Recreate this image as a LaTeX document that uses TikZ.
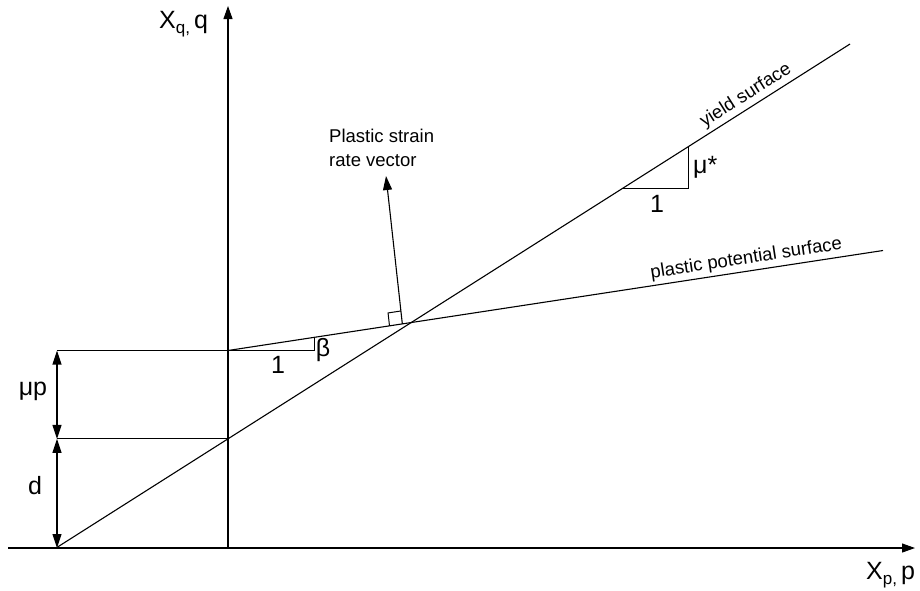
\documentclass[tikz,border=0pt]{standalone}
\usepackage{fontspec}
\setmainfont{Liberation Sans}
\usetikzlibrary{arrows.meta,calc}
\begin{document}
\begin{tikzpicture}[x=1pt,y=-1pt,
  ln/.style={line width=1.1pt},
  fine/.style={line width=1pt},
  axisarrow/.style={ln,-{Triangle[length=13pt,width=9pt]}},
  vecarrow/.style={ln,-{Triangle[length=14pt,width=9pt]}},
  dimarrow/.style={ln,{Triangle[length=14pt,width=9pt]}-{Triangle[length=14pt,width=9pt]}},
  small/.style={font=\fontsize{18.5}{24}\selectfont,inner sep=0pt},
  big/.style={font=\fontsize{25}{29}\selectfont,inner sep=0pt},
  axlabel/.style={font=\fontsize{25}{29}\selectfont,inner sep=0pt}]
\useasboundingbox (0,0) rectangle (920,590);
% axes
\coordinate (xs) at (8,548);
\coordinate (xe) at (915,548);
\coordinate (O) at (228,548);
\coordinate (yt) at (228,6);
\draw[axisarrow] (xs) -- (xe);
\draw[axisarrow] (O) -- (yt);
\node[axlabel,anchor=base west] (xq) at (159,28) {X\raisebox{-5pt}{\fontsize{17}{17}\selectfont q,}\,q};
\node[axlabel,anchor=base west] (xp) at (866,579) {X\raisebox{-5pt}{\fontsize{17}{17}\selectfont p,}\,p};
% yield surface
\coordinate (A) at (56,548);
\coordinate (Y2) at (850,44);
\draw[ln] (A) -- (Y2) node[pos=0.877,sloped,above,small,inner sep=3pt] {yield surface};
\coordinate (D) at (intersection of A--Y2 and O--yt);
% plastic potential surface
\coordinate (P0) at (228,350.5);
\coordinate (P1) at (883,250.5);
\draw[ln] (P0) -- (P1) node[pos=0.794,sloped,above,small,inner sep=3pt] {plastic potential surface};
% horizontal guides and dimensions
\coordinate (L1) at (57,350.5);
\coordinate (L2) at (L1 |- D);
\coordinate (L3) at (L1 |- A);
\draw[ln] (L1) -- (P0);
\draw[ln] (L2) -- (D);
\draw[dimarrow] (L1) -- (L2);
\draw[dimarrow] (L2) -- (L3);
\node[big] (mup) at (33,391) {μp};
\node[big] (dl) at (35,486) {d};
% beta triangle
\coordinate (B2) at ($(P0)!0.1313!(P1)$);
\coordinate (B1) at (B2 |- P0);
\draw[fine] (P0) -- (B1) -- (B2);
\node[big] (one1) at (278,365) {1};
\node[big] (beta) at (323,350) {β};
% mu* triangle
\coordinate (M1) at ($(A)!0.714!(Y2)$);
\coordinate (M3) at ($(A)!0.796!(Y2)$);
\coordinate (M2) at (M3 |- M1);
\draw[fine] (M1) -- (M2) -- (M3);
\node[big] (one2) at (657,204) {1};
\node[big,anchor=west] (mustar) at (693,167) {μ*};
% plastic strain rate vector
\coordinate (X) at (intersection of A--Y2 and P0--P1);
\coordinate (Bv) at ($(X)!9pt!(P0)$);
\coordinate (T) at (386,176);
\draw[vecarrow] (Bv) -- (T);
\coordinate (s1) at ($(Bv)!13pt!(P0)$);
\coordinate (s3) at ($(Bv)!13pt!(T)$);
\draw[fine] (s1) -- ($(s1)+(s3)-(Bv)$) -- (s3);
\node[small,anchor=base west] (lab1) at (329,142) {Plastic strain};
\node[small,anchor=base west] (lab2) at (329,166) {rate vector};
\end{tikzpicture}
\end{document}
